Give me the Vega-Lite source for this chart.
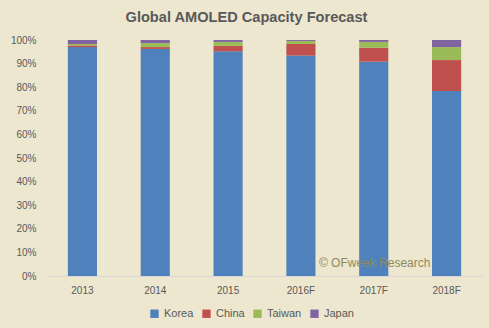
{
  "$schema": "https://vega.github.io/schema/vega-lite/v6.json",
  "width": 437,
  "height": 236,
  "autosize": {"type": "none"},
  "padding": {"left": 46, "top": 40, "right": 6, "bottom": 52},
  "background": "#ede7cf",
  "config": {
    "view": {"stroke": null},
    "font": "Liberation Sans",
    "axis": {"labelColor": "#595959", "labelFontSize": 10, "ticks": false, "grid": false, "domain": false, "title": null}
  },
  "title": {"text": "Global AMOLED Capacity Forecast", "fontSize": 14.6, "fontWeight": "bold", "color": "#595959", "offset": 10, "dx": -18},
  "data": {"values": [
    {"year": "2013", "region": "Korea", "value": 0.970},
    {"year": "2013", "region": "China", "value": 0.007},
    {"year": "2013", "region": "Taiwan", "value": 0.006},
    {"year": "2013", "region": "Japan", "value": 0.017},
    {"year": "2014", "region": "Korea", "value": 0.962},
    {"year": "2014", "region": "China", "value": 0.008},
    {"year": "2014", "region": "Taiwan", "value": 0.017},
    {"year": "2014", "region": "Japan", "value": 0.013},
    {"year": "2015", "region": "Korea", "value": 0.952},
    {"year": "2015", "region": "China", "value": 0.023},
    {"year": "2015", "region": "Taiwan", "value": 0.017},
    {"year": "2015", "region": "Japan", "value": 0.008},
    {"year": "2016F", "region": "Korea", "value": 0.934},
    {"year": "2016F", "region": "China", "value": 0.049},
    {"year": "2016F", "region": "Taiwan", "value": 0.013},
    {"year": "2016F", "region": "Japan", "value": 0.004},
    {"year": "2017F", "region": "Korea", "value": 0.908},
    {"year": "2017F", "region": "China", "value": 0.059},
    {"year": "2017F", "region": "Taiwan", "value": 0.025},
    {"year": "2017F", "region": "Japan", "value": 0.008},
    {"year": "2018F", "region": "Korea", "value": 0.784},
    {"year": "2018F", "region": "China", "value": 0.131},
    {"year": "2018F", "region": "Taiwan", "value": 0.055},
    {"year": "2018F", "region": "Japan", "value": 0.030}
  ]},
  "layer": [
    {
      "transform": [{"calculate": "indexof(['Korea','China','Taiwan','Japan'], datum.region)", "as": "stackOrder"}],
      "mark": {"type": "bar"},
      "encoding": {
        "x": {"field": "year", "type": "nominal", "scale": {"paddingInner": 0.6, "paddingOuter": 0.3},
              "axis": {"labelAngle": 0, "labelPadding": 9, "domain": true, "domainColor": "#d9d9d9", "domainWidth": 1}},
        "y": {"field": "value", "type": "quantitative", "stack": "zero",
              "scale": {"domain": [0, 1]},
              "axis": {"format": ".0%", "values": [0, 0.1, 0.2, 0.3, 0.4, 0.5, 0.6, 0.7, 0.8, 0.9, 1.0], "labelOverlap": false, "labelPadding": 10}},
        "color": {"field": "region", "type": "nominal",
                  "sort": ["Korea", "China", "Taiwan", "Japan"],
                  "scale": {"domain": ["Korea", "China", "Taiwan", "Japan"], "range": ["#4f81bd", "#c0504d", "#9bbb59", "#8064a2"]},
                  "legend": {"title": null, "orient": "none", "legendX": 103, "legendY": 268, "direction": "horizontal",
                             "symbolType": "square", "symbolSize": 70, "symbolStrokeWidth": 0, "labelFontSize": 11, "labelColor": "#595959",
                             "columnPadding": 7, "labelOffset": 4}},
        "order": {"field": "stackOrder", "type": "quantitative", "sort": "ascending"}
      }
    },
    {
      "data": {"values": [{"note": "© OFweek Research"}]},
      "mark": {"type": "text", "align": "left", "baseline": "middle", "dx": 18, "fontSize": 12, "fontWeight": "normal", "color": "#8f8a5c"},
      "encoding": {
        "x": {"datum": "2016F", "type": "nominal",
              "axis": {"labelAngle": 0, "labelPadding": 9, "domain": true, "domainColor": "#d9d9d9", "domainWidth": 1}},
        "y": {"datum": 0.055, "type": "quantitative",
              "axis": {"format": ".0%", "values": [0, 0.1, 0.2, 0.3, 0.4, 0.5, 0.6, 0.7, 0.8, 0.9, 1.0], "labelOverlap": false, "labelPadding": 10}},
        "text": {"field": "note", "type": "nominal"}
      }
    }
  ]
}
